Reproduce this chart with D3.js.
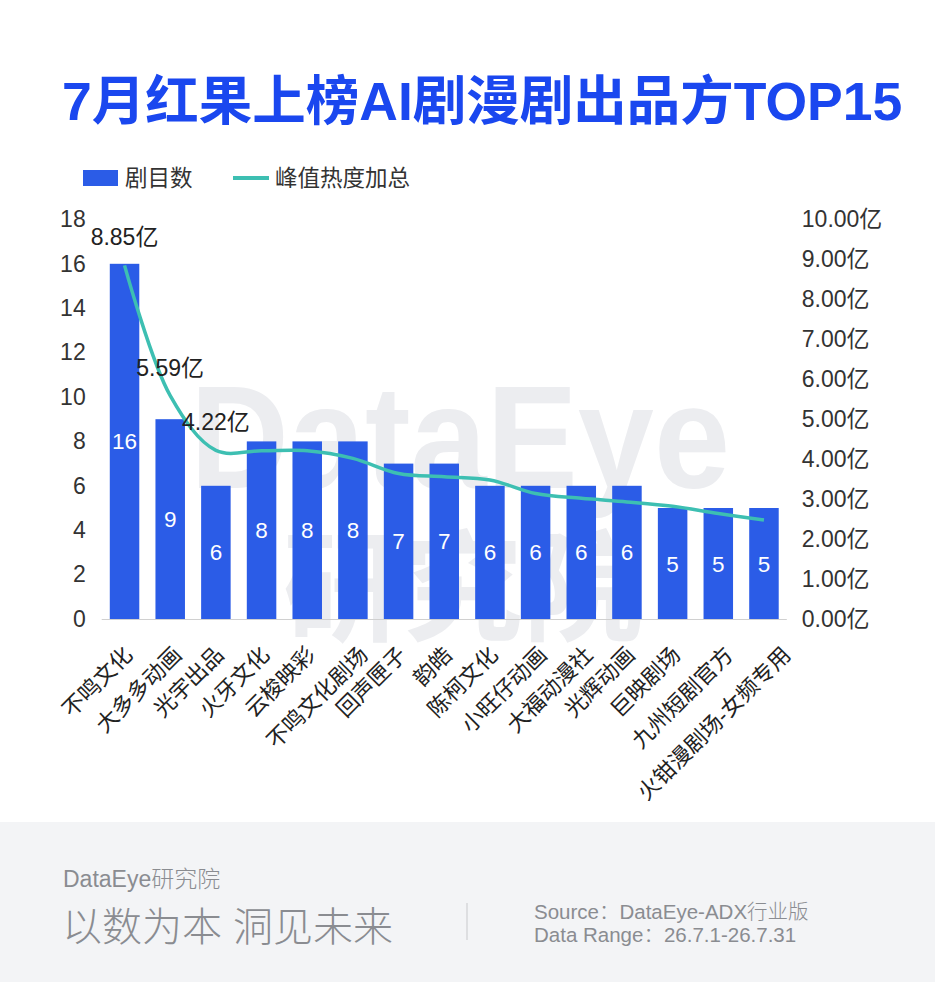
<!DOCTYPE html>
<html><head><meta charset="utf-8">
<script src="https://cdn.jsdelivr.net/npm/d3@7/dist/d3.min.js"></script>
<style>
html,body{margin:0;padding:0;background:#fff;}
svg{display:block;}
text{font-family:"Liberation Sans","Noto Sans CJK SC",sans-serif;}
</style></head>
<body>
<script>
const categories = ["不鸣文化","大多多动画","光宇出品","火牙文化","云梭映彩","不鸣文化剧场","回声匣子","韵皓","陈柯文化","小旺仔动画","大福动漫社","光辉动画","巨映剧场","九州短剧官方","火钳漫剧场-女频专用"];
const dramaCounts = [16,9,6,8,8,8,7,7,6,6,6,6,5,5,5];
const peakHeat = [8.85,5.59,4.22,4.21,4.21,4.02,3.64,3.56,3.48,3.14,3.02,2.93,2.82,2.64,2.48];
const heatLabels = ["8.85亿","5.59亿","4.22亿"];
const leftTicks = [0,2,4,6,8,10,12,14,16,18];
const rightTicks = [0,1,2,3,4,5,6,7,8,9,10];
const seriesNames = ["剧目数","峰值热度加总"];
const titleText = "7月红果上榜AI剧漫剧出品方TOP15";

const W = 935, H = 982;
const BLUE = "#2b5ce7", TEAL = "#3dbfb2", TITLE = "#1a47ef";
const svg = d3.select("body").append("svg").attr("width", W).attr("height", H);
svg.append("rect").attr("width", W).attr("height", H).attr("fill", "#fff");

// watermark
const wm = svg.append("g").attr("fill", "#ecedf0");
wm.append("text").attr("x", 190).attr("y", 488).attr("font-size", 146)
  .attr("font-family", "Lato, 'Noto Sans', sans-serif").attr("font-weight", 700)
  .attr("textLength", 540).attr("lengthAdjust", "spacingAndGlyphs").text("DataEye");
wm.append("text").attr("x", 283).attr("y", 632).attr("font-size", 120)
  .attr("font-family", "'Noto Sans CJK SC', sans-serif").attr("font-weight", 700)
  .attr("textLength", 360).text("研究院");

// title
svg.append("text").attr("x", 62).attr("y", 120).attr("font-size", 53.5).attr("font-weight", 700)
  .attr("fill", TITLE).attr("font-family", "'Noto Sans CJK SC', sans-serif").text(titleText);

// legend
const lg = svg.append("g");
lg.append("rect").attr("x", 83).attr("y", 170).attr("width", 35).attr("height", 16).attr("fill", BLUE);
lg.append("text").attr("x", 125).attr("y", 186).attr("font-size", 22.5).attr("fill", "#333").text(seriesNames[0]);
lg.append("line").attr("x1", 233).attr("x2", 269).attr("y1", 178).attr("y2", 178).attr("stroke", TEAL).attr("stroke-width", 4);
lg.append("text").attr("x", 275).attr("y", 186).attr("font-size", 22.5).attr("fill", "#333").text(seriesNames[1]);

// scales
const x = d3.scaleBand().domain(categories).range([101.7, 786.8]).paddingInner(0.354).paddingOuter(0.177);
const yL = d3.scaleLinear().domain([0, 18]).range([619, 219.4]);
const yR = d3.scaleLinear().domain([0, 10]).range([619, 219.4]);

// left axis
const axL = svg.append("g").attr("transform", "translate(101.7,0)")
  .call(d3.axisLeft(yL).tickValues(leftTicks).tickSize(0).tickPadding(16));
axL.select(".domain").remove();
axL.selectAll("text").attr("font-size", 23).attr("fill", "#333").attr("font-family", "'Liberation Sans','Noto Sans CJK SC',sans-serif");

// right axis
const axR = svg.append("g").attr("transform", "translate(786.8,0)")
  .call(d3.axisRight(yR).tickValues(rightTicks).tickSize(0).tickPadding(15).tickFormat(d => d3.format(".2f")(d) + "亿"));
axR.select(".domain").remove();
axR.selectAll("text").attr("font-size", 23).attr("fill", "#333").attr("font-family", "'Liberation Sans','Noto Sans CJK SC',sans-serif");

// baseline
svg.append("line").attr("x1", 101.7).attr("x2", 786.8).attr("y1", 619.5).attr("y2", 619.5).attr("stroke", "#d0d0d0").attr("stroke-width", 1);

// bars
svg.append("g").selectAll("rect").data(categories).join("rect")
  .attr("x", d => x(d)).attr("width", x.bandwidth())
  .attr("y", (d, i) => yL(dramaCounts[i])).attr("height", (d, i) => yL(0) - yL(dramaCounts[i]))
  .attr("fill", BLUE);

// bar labels
svg.append("g").selectAll("text").data(categories).join("text")
  .attr("x", d => x(d) + x.bandwidth() / 2)
  .attr("y", (d, i) => (yL(dramaCounts[i]) + yL(0)) / 2 + 8)
  .attr("text-anchor", "middle").attr("font-size", 22.5).attr("fill", "#fff")
  .text((d, i) => dramaCounts[i]);

// line
const line = d3.line().x((d, i) => x(categories[i]) + x.bandwidth() / 2).y(d => yR(d)).curve(d3.curveCatmullRom.alpha(0.5));
svg.append("path").datum(peakHeat).attr("d", line).attr("fill", "none").attr("stroke", TEAL).attr("stroke-width", 3.5);

// line labels
svg.append("g").selectAll("text").data(heatLabels).join("text")
  .attr("x", (d, i) => x(categories[i]) + x.bandwidth() / 2)
  .attr("y", (d, i) => yR(peakHeat[i]) - 20)
  .attr("text-anchor", "middle").attr("font-size", 23).attr("fill", "#222").text(d => d);

// x labels
svg.append("g").selectAll("text").data(categories).join("text")
  .attr("text-anchor", "end").attr("dominant-baseline", "central")
  .attr("font-size", 22).attr("fill", "#222").text(d => d)
  .each(function(d) {
    const len = this.getComputedTextLength();
    const cx = x(d) + x.bandwidth() / 2 + 4 + Math.max(0, len - 88) * 0.16;
    d3.select(this).attr("transform", `translate(${cx},651) rotate(-45)`);
  });

// footer
svg.append("rect").attr("x", 0).attr("y", 822).attr("width", W).attr("height", H - 822).attr("fill", "#f3f4f6");
const ft = svg.append("g").attr("fill", "#8a8c91").attr("font-family", "'Noto Sans CJK SC', sans-serif").attr("font-weight", 300);
ft.append("text").attr("x", 63).attr("y", 887).attr("font-size", 23).text("DataEye研究院");
ft.append("text").attr("x", 62).attr("y", 941).attr("font-size", 40).text("以数为本 洞见未来");
ft.append("line").attr("x1", 467).attr("x2", 467).attr("y1", 903).attr("y2", 940).attr("stroke", "#c8c9cc").attr("stroke-width", 1);
ft.append("text").attr("x", 534).attr("y", 919).attr("font-size", 20.5).text("Source：DataEye-ADX行业版");
ft.append("text").attr("x", 534).attr("y", 942).attr("font-size", 20.5).text("Data Range：26.7.1-26.7.31");
</script>
</body></html>
